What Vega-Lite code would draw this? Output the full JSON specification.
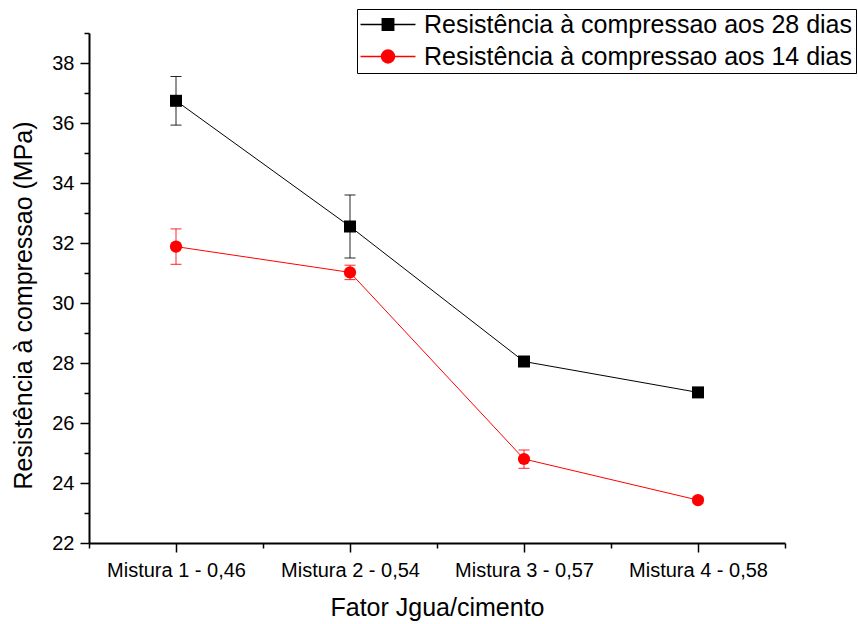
{
  "$schema": "https://vega.github.io/schema/vega-lite/v6.json",
  "width": 696,
  "height": 510,
  "autosize": {"type": "none"},
  "padding": {"left": 89, "top": 33, "right": 73, "bottom": 81},
  "background": "white",
  "config": {"font": "Liberation Sans", "view": {"stroke": null}, "axis": {"grid": false}},
  "data": {
    "values": [
      {"mistura": 1, "serie": "Resistência à compressao aos 28 dias", "valor": 36.74, "lo": 35.93, "hi": 37.55},
      {"mistura": 2, "serie": "Resistência à compressao aos 28 dias", "valor": 32.55, "lo": 31.5, "hi": 33.6},
      {"mistura": 3, "serie": "Resistência à compressao aos 28 dias", "valor": 28.05, "lo": 27.9, "hi": 28.2},
      {"mistura": 4, "serie": "Resistência à compressao aos 28 dias", "valor": 27.02, "lo": 26.87, "hi": 27.17},
      {"mistura": 1, "serie": "Resistência à compressao aos 14 dias", "valor": 31.88, "lo": 31.29, "hi": 32.47},
      {"mistura": 2, "serie": "Resistência à compressao aos 14 dias", "valor": 31.02, "lo": 30.78, "hi": 31.26},
      {"mistura": 3, "serie": "Resistência à compressao aos 14 dias", "valor": 24.8, "lo": 24.49, "hi": 25.1},
      {"mistura": 4, "serie": "Resistência à compressao aos 14 dias", "valor": 23.43, "lo": 23.33, "hi": 23.53}
    ]
  },
  "layer": [
    {
      "transform": [{"filter": "false"}],
      "mark": {"type": "point", "filled": true, "opacity": 1},
      "encoding": {
        "x": {"field": "mistura", "type": "quantitative", "axis": null},
        "y": {"field": "valor", "type": "quantitative", "axis": null},
        "color": {"field": "serie", "type": "nominal",
          "scale": {"domain": ["Resistência à compressao aos 28 dias", "Resistência à compressao aos 14 dias"], "range": ["black", "red"]},
          "legend": {"title": null, "orient": "none", "legendX": 268, "legendY": -24, "direction": "vertical",
            "labelFontSize": 25, "labelColor": "black", "labelLimit": 1000, "labelOffset": 23.5,
            "symbolSize": 144, "symbolOffset": 15.5, "padding": 3, "rowPadding": 6,
            "strokeColor": "black", "fillColor": "white", "cornerRadius": 0,
            "encode": {
              "legend": {"update": {"strokeWidth": {"value": 1.5}}},
              "symbols": {"update": {
                "stroke": {"signal": "datum.value === 'Resistência à compressao aos 28 dias' ? 'black' : 'red'"},
                "strokeWidth": {"value": 1},
                "size": {"value": 144},
                "opacity": {"value": 1}
              }}
            }}},
        "shape": {"field": "serie", "type": "nominal",
          "scale": {"domain": ["Resistência à compressao aos 28 dias", "Resistência à compressao aos 14 dias"],
            "range": ["M-4.58,0H4.58M-0.95,-0.95H0.95V0.95H-0.95Z", "M-4.58,0H4.58M-1.08,0A1.08,1.08 0 1,0 1.08,0A1.08,1.08 0 1,0 -1.08,0Z"]},
          "legend": {"title": null, "orient": "none", "legendX": 268, "legendY": -24, "direction": "vertical",
            "labelFontSize": 25, "labelColor": "black", "labelLimit": 1000, "labelOffset": 23.5,
            "symbolSize": 144, "symbolOffset": 15.5, "padding": 3, "rowPadding": 6,
            "strokeColor": "black", "fillColor": "white", "cornerRadius": 0}
        }
      }
    },
    {
      "mark": {"type": "line", "strokeWidth": 1},
      "encoding": {
        "x": {"field": "mistura", "type": "quantitative", "scale": {"domain": [0.5, 4.5], "nice": false, "zero": false},
          "axis": {"orient": "bottom", "values": [1, 2, 3, 4],
            "labelExpr": "['', 'Mistura 1 - 0,46', 'Mistura 2 - 0,54', 'Mistura 3 - 0,57', 'Mistura 4 - 0,58'][datum.value]",
            "title": "Fator Jgua/cimento", "titleFontSize": 25, "titleFontWeight": "normal", "titleColor": "black",
            "titleBaseline": "alphabetic", "titleY": 72,
            "labelFontSize": 20, "labelColor": "black", "labelPadding": 8, "labelFlush": false, "labelOverlap": false,
            "tickSize": 9, "tickWidth": 1.5, "tickColor": "black", "domainColor": "black", "domainWidth": 2, "grid": false}},
        "y": {"field": "valor", "type": "quantitative", "scale": {"domain": [22, 39], "nice": false, "zero": false},
          "axis": {"orient": "left", "values": [22, 24, 26, 28, 30, 32, 34, 36, 38],
            "title": "Resistência à compressao (MPa)", "titleFontSize": 25, "titleFontWeight": "normal", "titleColor": "black",
            "titleBaseline": "alphabetic", "titleX": -58, "titleY": 272, "titleAngle": -90,
            "labelFontSize": 20, "labelColor": "black", "labelPadding": 6,
            "tickSize": 9, "tickWidth": 1.5, "tickColor": "black", "domainColor": "black", "domainWidth": 2, "grid": false}},
        "color": {"field": "serie", "type": "nominal"}
      }
    },
    {
      "mark": {"type": "rule", "strokeWidth": 1, "opacity": 0.85},
      "encoding": {
        "x": {"field": "mistura", "type": "quantitative",
          "axis": {"orient": "bottom", "values": [0.5, 1.5, 2.5, 3.5, 4.5], "labels": false, "title": null, "domain": false,
            "tickSize": 5, "tickWidth": 1.5, "tickColor": "black", "grid": false}},
        "y": {"field": "lo", "type": "quantitative",
          "axis": {"orient": "left", "values": [23, 25, 27, 29, 31, 33, 35, 37, 39], "labels": false, "title": null, "domain": false,
            "tickSize": 5, "tickWidth": 1.5, "tickColor": "black", "grid": false}},
        "y2": {"field": "hi"},
        "color": {"field": "serie", "type": "nominal"}
      }
    },
    {
      "mark": {"type": "tick", "orient": "horizontal", "size": 11, "thickness": 1, "opacity": 0.85},
      "encoding": {
        "x": {"field": "mistura", "type": "quantitative", "axis": null},
        "y": {"field": "lo", "type": "quantitative", "axis": null},
        "color": {"field": "serie", "type": "nominal"}
      }
    },
    {
      "mark": {"type": "tick", "orient": "horizontal", "size": 11, "thickness": 1, "opacity": 0.85},
      "encoding": {
        "x": {"field": "mistura", "type": "quantitative", "axis": null},
        "y": {"field": "hi", "type": "quantitative", "axis": null},
        "color": {"field": "serie", "type": "nominal"}
      }
    },
    {
      "transform": [{"filter": {"field": "serie", "equal": "Resistência à compressao aos 28 dias"}}],
      "mark": {"type": "point", "filled": true, "opacity": 1, "size": 144, "shape": "square", "color": "black"},
      "encoding": {
        "x": {"field": "mistura", "type": "quantitative", "axis": null},
        "y": {"field": "valor", "type": "quantitative", "axis": null}
      }
    },
    {
      "transform": [{"filter": {"field": "serie", "equal": "Resistência à compressao aos 14 dias"}}],
      "mark": {"type": "point", "filled": true, "opacity": 1, "size": 150, "shape": "circle", "color": "red"},
      "encoding": {
        "x": {"field": "mistura", "type": "quantitative", "axis": null},
        "y": {"field": "valor", "type": "quantitative", "axis": null}
      }
    }
  ],
  "resolve": {"axis": {"x": "independent", "y": "independent"}}
}
